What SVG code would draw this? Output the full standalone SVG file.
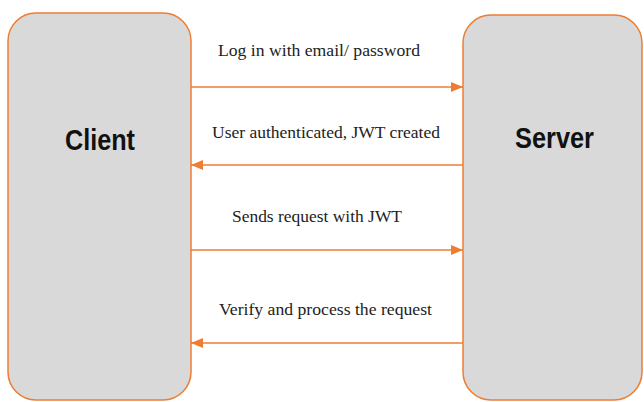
<svg xmlns="http://www.w3.org/2000/svg" width="644" height="402" viewBox="0 0 644 402">
<style>
.box{fill:#D9D9D9;stroke:#ED7D31;stroke-width:1.5}
.title{font-family:"Liberation Sans",Arial,sans-serif;font-weight:bold;font-size:29px;fill:#111;text-anchor:middle}
.lbl{font-family:"Liberation Serif","Times New Roman",serif;font-size:17.5px;fill:#222}
.conn{stroke:#ED7D31;stroke-width:1.5;fill:none}
</style>
<defs>
<marker id="ah" viewBox="0 0 12 10" refX="12" refY="5" markerWidth="12" markerHeight="10" markerUnits="userSpaceOnUse" orient="auto">
<path d="M0,0 L12,5 L0,10 Z" fill="#ED7D31"/>
</marker>
</defs>
<rect width="644" height="402" fill="#fff"/>
<g id="client">
<rect class="box" x="8" y="13" width="183" height="387" rx="28" ry="28"/>
<text class="title" x="100" y="150" textLength="70" lengthAdjust="spacingAndGlyphs">Client</text>
</g>
<g id="server">
<rect class="box" x="463" y="15" width="179" height="385" rx="28" ry="28"/>
<text class="title" x="554.5" y="148" textLength="79" lengthAdjust="spacingAndGlyphs">Server</text>
</g>
<g id="connectors">
<line class="conn" x1="191" y1="87" x2="463" y2="87" marker-end="url(#ah)"/>
<line class="conn" x1="463" y1="165" x2="191" y2="165" marker-end="url(#ah)"/>
<line class="conn" x1="191" y1="250" x2="463" y2="250" marker-end="url(#ah)"/>
<line class="conn" x1="463" y1="343" x2="191" y2="343" marker-end="url(#ah)"/>
</g>
<g id="labels">
<text class="lbl" x="218" y="56" textLength="202" lengthAdjust="spacingAndGlyphs">Log in with email/ password</text>
<text class="lbl" x="212" y="138" textLength="228" lengthAdjust="spacingAndGlyphs">User authenticated, JWT created</text>
<text class="lbl" x="232" y="222" textLength="170" lengthAdjust="spacingAndGlyphs">Sends request with JWT</text>
<text class="lbl" x="219" y="315" textLength="213" lengthAdjust="spacingAndGlyphs">Verify and process the request</text>
</g>
</svg>
